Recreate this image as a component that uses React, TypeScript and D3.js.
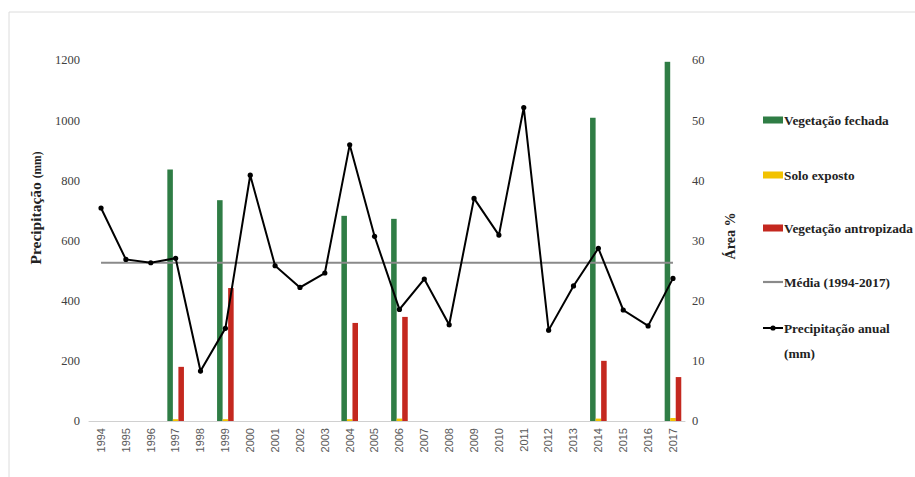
import React from "react";
import * as d3 from "d3";

const years = ["1994","1995","1996","1997","1998","1999","2000","2001","2002","2003","2004","2005","2006","2007","2008","2009","2010","2011","2012","2013","2014","2015","2016","2017"];
const precip = [708,537,526,541,166,308,817,516,444,492,918,614,371,472,320,740,618,1042,302,449,574,369,316,474];
const meanValue = 526;
const areaYears = ["1997","1999","2004","2006","2014","2017"];
const vegFechada = [41.8,36.7,34.1,33.6,50.4,59.7];
const soloExposto = [0.3,0.3,0.3,0.4,0.4,0.5];
const vegAntropizada = [9.0,22.1,16.3,17.3,10.0,7.3];
const leftTicks = [0,200,400,600,800,1000,1200];
const rightTicks = [0,10,20,30,40,50,60];
const seriesNames = ["Vegetação fechada","Solo exposto","Vegetação antropizada"];
const seriesColors = ["#2f7d45","#f2c200","#c4281f"];

export default function App() {
  const W = 915, H = 477;
  const left = 88.6, right = 685.4, top = 60, bottom = 421;
  const x = d3.scaleBand<string>().domain(years).range([left, right]).padding(0);
  const yL = d3.scaleLinear().domain([0, 1200]).range([bottom, top]);
  const yR = d3.scaleLinear().domain([0, 60]).range([bottom, top]);
  const inner = d3.scaleBand<string>().domain(seriesNames).range([-8.3, 8.3]).padding(0);
  const cx = (yr: string) => (x(yr) as number) + x.bandwidth() / 2;
  const seriesVals = [vegFechada, soloExposto, vegAntropizada];
  const line = d3.line<number>().x((_, i) => cx(years[i])).y((d) => yL(d));
  const serifStyle = { fontFamily: '"Liberation Serif", "DejaVu Serif", serif' };
  const sansStyle = { fontFamily: '"Liberation Sans", "DejaVu Sans", sans-serif' };

  const legendItems = [
    { y: 120, type: "rect", color: seriesColors[0], label: ["Vegetação fechada"] },
    { y: 175, type: "rect", color: seriesColors[1], label: ["Solo exposto"] },
    { y: 228, type: "rect", color: seriesColors[2], label: ["Vegetação antropizada"] },
    { y: 282, type: "line", color: "#8a8a8a", label: ["Média (1994-2017)"] },
    { y: 328, type: "marker", color: "#000", label: ["Precipitação anual", "(mm)"] },
  ];

  return (
    <svg width={W} height={H} style={{ position: "absolute", left: 0, top: 0, background: "#fff" }}>
      <rect x={0} y={0} width={W} height={H} fill="#fff" />
      <line x1={9} y1={12} x2={915} y2={12} stroke="#dcdcdc" strokeWidth={1} />
      <line x1={9} y1={12} x2={9} y2={477} stroke="#dcdcdc" strokeWidth={1} />

      <line x1={left} x2={right} y1={bottom + 0.5} y2={bottom + 0.5} stroke="#d0d0d0" strokeWidth={1} />

      {seriesVals.map((vals, si) =>
        vals.map((v, i) => {
          const c = cx(areaYears[i]);
          const bx = c + (inner(seriesNames[si]) as number);
          return (
            <rect key={`b${si}-${i}`} x={bx} y={yR(v)} width={inner.bandwidth()} height={bottom - yR(v)} fill={seriesColors[si]} />
          );
        })
      )}

      <line x1={cx(years[0])} x2={cx(years[years.length - 1])} y1={yL(meanValue)} y2={yL(meanValue)} stroke="#8a8a8a" strokeWidth={2.2} />

      <path d={line(precip) || ""} fill="none" stroke="#000" strokeWidth={2} />
      {precip.map((v, i) => (
        <circle key={`p${i}`} cx={cx(years[i])} cy={yL(v)} r={2.6} fill="#000" />
      ))}

      {leftTicks.map((t) => (
        <text key={`l${t}`} x={80} y={yL(t)} dy="0.35em" textAnchor="end" style={serifStyle} fontSize={12.5} fill="#404040">{t}</text>
      ))}
      {rightTicks.map((t) => (
        <text key={`r${t}`} x={692} y={yR(t)} dy="0.35em" textAnchor="start" style={serifStyle} fontSize={12.5} fill="#404040">{t}</text>
      ))}
      {years.map((yr) => (
        <text key={`x${yr}`} transform={`translate(${cx(yr)},${428}) rotate(-90)`} textAnchor="end" dy="0.35em" style={sansStyle} fontSize={11} fill="#595959">{yr}</text>
      ))}

      <text transform={`translate(35,208) rotate(-90)`} textAnchor="middle" dy="0.35em" style={serifStyle} fontWeight="bold" fill="#222">
        <tspan fontSize={15.5}>Precipitação </tspan>
        <tspan fontSize={11.5}>(mm)</tspan>
      </text>
      <text transform={`translate(730,236) rotate(-90)`} textAnchor="middle" dy="0.35em" style={serifStyle} fontWeight="bold" fontSize={14} fill="#222">Área %</text>

      {legendItems.map((it, i) => (
        <g key={`lg${i}`}>
          {it.type === "rect" && <rect x={763} y={it.y - 3.5} width={20} height={7} fill={it.color} />}
          {it.type === "line" && <line x1={763} x2={783} y1={it.y} y2={it.y} stroke={it.color} strokeWidth={2.2} />}
          {it.type === "marker" && (
            <g>
              <line x1={763} x2={783} y1={it.y} y2={it.y} stroke="#000" strokeWidth={2} />
              <circle cx={773} cy={it.y} r={2.6} fill="#000" />
            </g>
          )}
          {it.label.map((lab, j) => (
            <text key={j} x={784} y={it.y + j * 25} dy="0.35em" style={serifStyle} fontWeight="bold" fontSize={13.3} fill="#222">{lab}</text>
          ))}
        </g>
      ))}
    </svg>
  );
}
